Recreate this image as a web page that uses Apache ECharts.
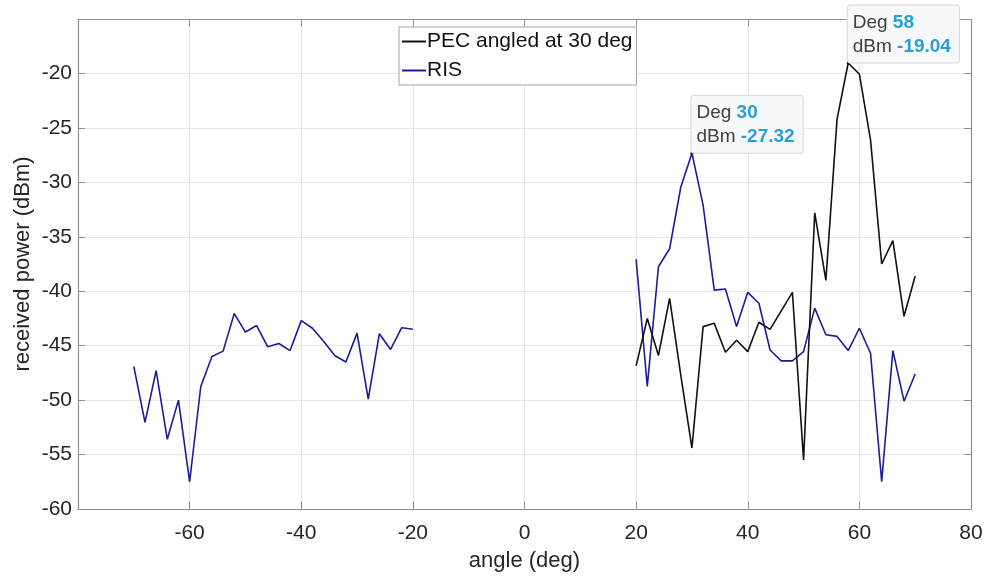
<!DOCTYPE html>
<html>
<head>
<meta charset="utf-8">
<script src="https://cdn.jsdelivr.net/npm/echarts@6/dist/echarts.min.js"></script>
<style>
html,body{margin:0;padding:0;background:#fff;}
#chart{width:989px;height:581px;}
</style>
</head>
<body>
<div id="chart"></div>
<script>
// angles (deg)
var anglesLeft = [-70,-68,-66,-64,-62,-60,-58,-56,-54,-52,-50,-48,-46,-44,-42,-40,-38,-36,-34,-32,-30,-28,-26,-24,-22,-20];
var anglesRight = [20,22,24,26,28,30,32,34,36,38,40,42,44,46,48,50,52,54,56,58,60,62,64,66,68,70];

// RIS received power (dBm)
var risLeft = [-46.9,-52.05,-47.3,-53.6,-50.0,-57.5,-48.75,-46.0,-45.5,-42.05,-43.75,-43.15,-45.1,-44.8,-45.45,-42.7,-43.4,-44.6,-45.9,-46.5,-43.85,-49.9,-43.9,-45.35,-43.35,-43.5];
var risRight = [-37.06,-48.75,-37.75,-36.1,-30.45,-27.32,-32.1,-39.9,-39.8,-43.25,-40.1,-41.1,-45.4,-46.4,-46.4,-45.55,-41.55,-44.0,-44.15,-45.45,-43.4,-45.7,-57.5,-45.45,-50.1,-47.6];

// PEC angled at 30 deg received power (dBm)
var pecRight = [-46.85,-42.5,-45.9,-40.65,-47.7,-54.4,-43.25,-42.95,-45.6,-44.5,-45.55,-42.85,-43.5,-41.8,-40.1,-55.5,-32.8,-39.0,-24.2,-19.04,-20.06,-26.1,-37.5,-35.35,-42.3,-38.6];

// axis ticks
var xTicks = [-60,-40,-20,0,20,40,60,80];
var yTicks = [-60,-55,-50,-45,-40,-35,-30,-25,-20];

// data tips (angles)
var tipRIS = 30;
var tipPEC = 58;

var FONT = '"Liberation Sans", Arial, Helvetica, sans-serif';

function pairs(xs, ys){ return xs.map(function(x,i){ return [x, ys[i]]; }); }
var risData = pairs(anglesLeft, risLeft).concat([[0,'-']]).concat(pairs(anglesRight, risRight));
var pecData = pairs(anglesRight, pecRight);

function tip(xs, ys, a){
  var i = xs.indexOf(a);
  return {
    coord: [xs[i], ys[i]],
    value: ys[i],
    label: {
      formatter: '{k|Deg }{v|' + xs[i] + '}\n{k|dBm }{v|' + ys[i].toFixed(2) + '}'
    }
  };
}

var tipLabel = {
  show: true,
  position: [1, 1],
  align: 'left',
  verticalAlign: 'bottom',
  backgroundColor: '#f7f8fa',
  borderColor: '#d6d8dc',
  borderWidth: 1,
  borderRadius: 3,
  padding: [5, 8, 4, 5],
  fontFamily: FONT,
  rich: {
    k: { fontSize: 19, color: '#404040', fontFamily: FONT, lineHeight: 24 },
    v: { fontSize: 19, color: '#2a9fd6', fontWeight: 'bold', fontFamily: FONT, lineHeight: 24 }
  }
};

var axisGray = '#8f8f8f';

var option = {
  backgroundColor: '#ffffff',
  animation: false,
  textStyle: { fontFamily: FONT },
  grid: { left: 78, right: 18, top: 19, bottom: 72, containLabel: false },
  legend: {
    left: 399, top: 27,
    orient: 'vertical',
    backgroundColor: '#ffffff',
    borderColor: '#a0a0a0',
    borderWidth: 1,
    padding: [4, 4, 4, 3],
    itemGap: 8,
    itemWidth: 24,
    itemHeight: 2,
    icon: 'rect',
    textStyle: { fontSize: 21, color: '#111', fontFamily: FONT, padding: [0,0,0,-4] },
    data: ['PEC angled at 30 deg', 'RIS']
  },
  xAxis: [{
    type: 'value', min: -80, max: 80, interval: 20,
    name: 'angle (deg)', nameLocation: 'middle', nameGap: 41,
    nameTextStyle: { fontSize: 22, color: '#262626', fontFamily: FONT },
    axisLine: { show: true, onZero: false, lineStyle: { color: axisGray, width: 1.2 } },
    axisTick: { show: true, inside: true, length: 7, lineStyle: { color: axisGray },
      customValues: xTicks },
    axisLabel: { fontSize: 21, color: '#262626', margin: 14, fontFamily: FONT,
      customValues: xTicks },
    splitLine: { show: true, lineStyle: { color: '#e6e6e6', width: 1 } }
  }, {
    type: 'value', position: 'top', min: -80, max: 80, interval: 20,
    axisLine: { show: true, onZero: false, lineStyle: { color: axisGray, width: 1.2 } },
    axisTick: { show: true, inside: true, length: 7, lineStyle: { color: axisGray }, customValues: xTicks },
    axisLabel: { show: false },
    splitLine: { show: false }
  }],
  yAxis: [{
    type: 'value', min: -60, max: -15, interval: 5,
    name: 'received power (dBm)', nameLocation: 'middle', nameGap: 44,
    nameMoveOverlap: false,
    nameTextStyle: { fontSize: 22, color: '#262626', fontFamily: FONT },
    axisLine: { show: true, onZero: false, lineStyle: { color: axisGray, width: 1.2 } },
    axisTick: { show: true, inside: true, length: 7, lineStyle: { color: axisGray }, customValues: yTicks },
    axisLabel: { fontSize: 21, color: '#262626', margin: 6, fontFamily: FONT, customValues: yTicks },
    splitLine: { show: true, lineStyle: { color: '#e6e6e6', width: 1 } }
  }, {
    type: 'value', position: 'right', min: -60, max: -15, interval: 5,
    axisLine: { show: true, onZero: false, lineStyle: { color: axisGray, width: 1.2 } },
    axisTick: { show: true, inside: true, length: 7, lineStyle: { color: axisGray }, customValues: yTicks },
    axisLabel: { show: false },
    splitLine: { show: false }
  }],
  series: [{
    name: 'PEC angled at 30 deg',
    type: 'line',
    data: pecData,
    showSymbol: false,
    color: '#111111',
    lineStyle: { color: '#111111', width: 1.6 },
    z: 3,
    markPoint: {
      symbol: 'circle', symbolSize: 3,
      itemStyle: { color: '#111' },
      label: tipLabel,
      data: [tip(anglesRight, pecRight, tipPEC)]
    }
  }, {
    name: 'RIS',
    type: 'line',
    data: risData,
    showSymbol: false,
    connectNulls: false,
    color: '#1c1c96',
    lineStyle: { color: '#1c1c96', width: 1.6 },
    z: 2,
    markPoint: {
      symbol: 'circle', symbolSize: 3,
      itemStyle: { color: '#111' },
      label: tipLabel,
      data: [tip(anglesRight, risRight, tipRIS)]
    }
  }]
};

var chart = echarts.init(document.getElementById('chart'), null, { renderer: 'canvas' });
chart.setOption(option);
</script>
</body>
</html>
